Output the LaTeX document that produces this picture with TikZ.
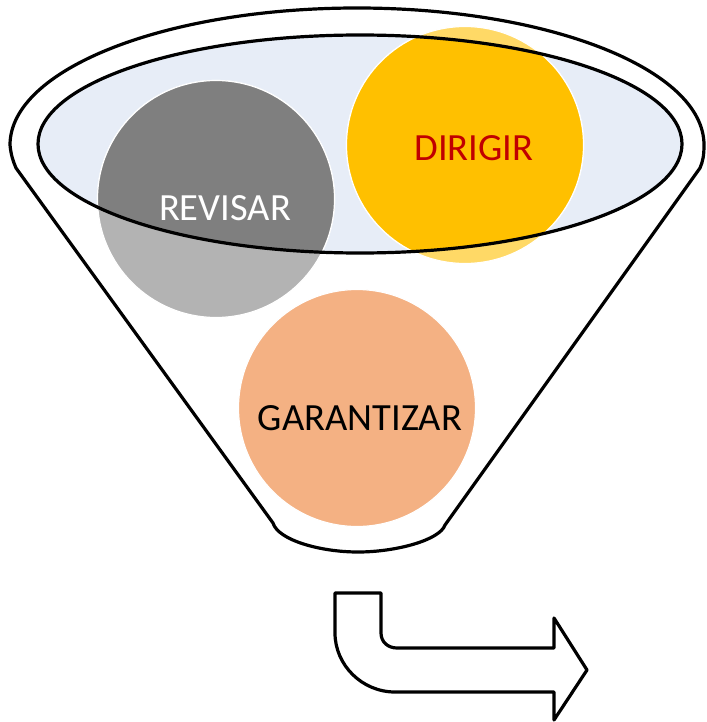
\documentclass[tikz,border=0pt]{standalone}
\usepackage{fontspec}
\setmainfont{Carlito}
\definecolor{innerblue}{HTML}{E7EDF7}
\definecolor{greydark}{HTML}{7F7F7F}
\definecolor{greylight}{HTML}{B3B3B3}
\definecolor{yellowdark}{HTML}{FFC000}
\definecolor{yellowlight}{HTML}{FFD966}
\definecolor{orangefill}{HTML}{F4B183}
\definecolor{textred}{HTML}{C00000}
\begin{document}
\begin{tikzpicture}[x=1pt,y=-1pt,line join=round]
\tikzset{
  outline/.style={draw=black,line width=3.2pt},
  ball/.style={circle,draw=white,line width=1.2pt,minimum size=237pt,inner sep=0pt},
  label/.style={font=\fontsize{38.5}{42}\selectfont,inner sep=0pt}
}
\useasboundingbox (0,0) rectangle (706,722);
% funnel body
\draw[outline,fill=white] (10,145) arc[start angle=180,end angle=360,x radius=347,y radius=137]
  .. controls (704,155) and (703,161) .. (700,168)
  -- (445,525) .. controls (440,540) and (396,552) .. (358,552)
  .. controls (320,552) and (278,540) .. (273,523)
  -- (16,168) .. controls (13,161) and (11,155) .. (10,145) -- cycle;
% inner ellipse fill
\fill[innerblue] (360,144) ellipse[x radius=322,y radius=109];
% circles (outside parts, lighter)
\node[ball,fill=greylight] (revisar) at (216,199) {};
\node[ball,fill=yellowlight] (dirigir) at (465,145) {};
\node[ball,fill=orangefill] (garantizar) at (357,408) {};
% darker parts inside ellipse
\begin{scope}
  \clip (360,144) ellipse[x radius=322,y radius=109];
  \node[ball,fill=greydark] at (revisar.center) {};
  \node[ball,fill=yellowdark] at (dirigir.center) {};
\end{scope}
% inner ellipse outline
\draw[outline] (360,144) ellipse[x radius=322,y radius=109];
% labels
\node[label,text=white] (trevisar) at (225,208) {REVISAR};
\node[label,text=textred] (tdirigir) at (474,148) {DIRIGIR};
\node[label,text=black] (tgarantizar) at (360,418) {GARANTIZAR};
% bent arrow
\draw[outline,fill=white] (335,593) -- (381,593) -- (381,633)
  .. controls (381,642) and (388,648) .. (397,648)
  -- (554,648) -- (554,618) -- (587,670) -- (554,720) -- (554,692)
  -- (395,692) .. controls (362,692) and (335,665) .. (335,633) -- cycle;
\end{tikzpicture}
\end{document}
